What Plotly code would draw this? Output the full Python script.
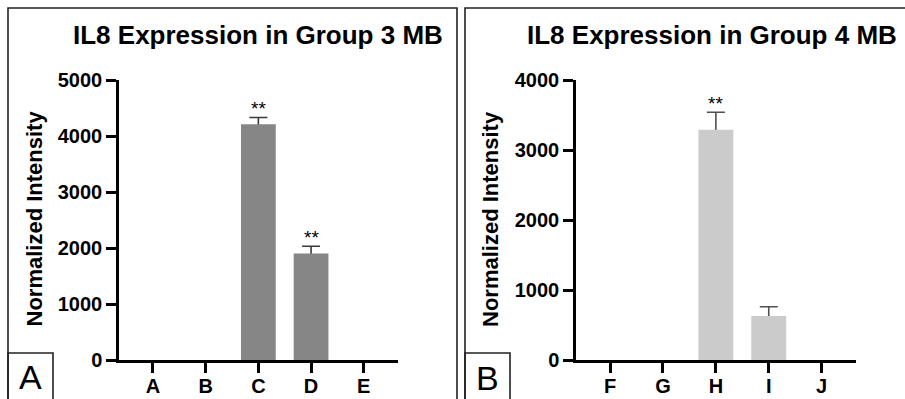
import plotly.graph_objects as go

# ---- data ----
categories_a = ["A", "B", "C", "D", "E"]
values_a = [0, 0, 4210, 1900, 0]
errors_a = [0, 0, 120, 130, 0]
sig_a = ["", "", "**", "**", ""]

categories_b = ["F", "G", "H", "I", "J"]
values_b = [0, 0, 3290, 630, 0]
errors_b = [0, 0, 250, 130, 0]
sig_b = ["", "", "**", "", ""]

title_a = "IL8 Expression in Group 3 MB"
title_b = "IL8 Expression in Group 4 MB"
ytitle = "Normalized Intensity"
yticks_a = [0, 1000, 2000, 3000, 4000, 5000]
yticks_b = [0, 1000, 2000, 3000, 4000]

W, H = 905, 399
FONT = "Liberation Sans"


def px(x):
    return x / W


def py(y):
    return 1 - y / H


fig = go.Figure()


def add_panel(cats, vals, errs, bar_color, err_color, xa, ya):
    # carrier of the error bars (drawn first, so the opaque bar hides the lower half)
    sel = [i for i, e in enumerate(errs) if e]
    fig.add_trace(go.Bar(
        x=[cats[i] for i in sel], y=[vals[i] for i in sel], width=0.66,
        marker=dict(color="rgba(0,0,0,0)", line=dict(width=0)),
        error_y=dict(type="data", symmetric=True,
                     array=[errs[i] for i in sel],
                     color=err_color, thickness=1.6, width=9),
        xaxis=xa, yaxis=ya, showlegend=False, hoverinfo="skip",
    ))
    fig.add_trace(go.Bar(
        x=cats, y=vals, width=0.66,
        marker=dict(color=bar_color, line=dict(width=0)),
        xaxis=xa, yaxis=ya, showlegend=False,
    ))


add_panel(categories_a, values_a, errors_a, "#868686", "#3a3a3a", "x", "y")
add_panel(categories_b, values_b, errors_b, "#cbcbcb", "#505050", "x2", "y2")

tickfont = dict(family=FONT, size=20, color="black", weight="bold")
common_x = dict(type="category", range=[-0.645, 4.65], showline=True, linecolor="black",
                linewidth=2.5, ticks="outside", ticklen=10, tickwidth=2.5, tickcolor="black",
                tickfont=tickfont, showgrid=False, zeroline=False, fixedrange=True,
                automargin=False, ticklabelstandoff=-4)
common_y = dict(showline=True, linecolor="black", linewidth=2.5, ticks="outside", ticklen=10,
                tickwidth=2.5, tickcolor="black", tickfont=tickfont, showgrid=False,
                zeroline=False, fixedrange=True, automargin=False)

fig.update_layout(
    width=W, height=H,
    margin=dict(l=0, r=0, t=0, b=0, pad=0, autoexpand=False),
    paper_bgcolor="white", plot_bgcolor="white",
    barmode="overlay",
    xaxis=dict(domain=[px(119), px(398)], anchor="y", categoryorder="array",
               categoryarray=categories_a, **common_x),
    yaxis=dict(domain=[py(360), py(80)], anchor="x", range=[0, 5000],
               tickvals=yticks_a, **common_y),
    xaxis2=dict(domain=[px(576), px(856)], anchor="y2", categoryorder="array",
                categoryarray=categories_b, **common_x),
    yaxis2=dict(domain=[py(360), py(80)], anchor="x2", range=[0, 4000],
                tickvals=yticks_b, **common_y),
)

annotations = []
# titles
annotations.append(dict(text="<b>" + title_a + "</b>", x=px(257.5), y=py(35), xref="paper", yref="paper",
                        showarrow=False, font=dict(family=FONT, size=26, color="black"),
                        xanchor="center", yanchor="middle"))
annotations.append(dict(text="<b>" + title_b + "</b>", x=px(712), y=py(35), xref="paper", yref="paper",
                        showarrow=False, font=dict(family=FONT, size=26, color="black"),
                        xanchor="center", yanchor="middle"))
# y titles
for xc in (33.5, 490):
    annotations.append(dict(text="<b>" + ytitle + "</b>", x=px(xc), y=py(219), xref="paper", yref="paper",
                            showarrow=False, textangle=-90,
                            font=dict(family=FONT, size=22, color="black"),
                            xanchor="center", yanchor="middle"))
# significance marks
for cats, vals, errs, sigs, xr, yr in ((categories_a, values_a, errors_a, sig_a, "x", "y"),
                                       (categories_b, values_b, errors_b, sig_b, "x2", "y2")):
    for c, v, e, s in zip(cats, vals, errs, sigs):
        if s:
            annotations.append(dict(text=s, x=c, y=v + e, xref=xr, yref=yr, showarrow=False,
                                    font=dict(family=FONT, size=19, color="black"),
                                    xanchor="center", yanchor="middle", yshift=9))
# panel letters
annotations.append(dict(text="A", x=px(31), y=py(377), xref="paper", yref="paper", showarrow=False,
                        font=dict(family=FONT, size=34, color="black"),
                        xanchor="center", yanchor="middle"))
annotations.append(dict(text="B", x=px(487), y=py(377.5), xref="paper", yref="paper", showarrow=False,
                        font=dict(family=FONT, size=34, color="black"),
                        xanchor="center", yanchor="middle"))
fig.update_layout(annotations=annotations)

shapes = []
frame = dict(color="#222222", width=1.6)
shapes.append(dict(type="rect", xref="paper", yref="paper", x0=px(8), x1=px(457), y0=py(420), y1=py(8),
                   line=frame, fillcolor="rgba(0,0,0,0)", layer="below"))
shapes.append(dict(type="rect", xref="paper", yref="paper", x0=px(465), x1=px(930), y0=py(420), y1=py(8),
                   line=frame, fillcolor="rgba(0,0,0,0)", layer="below"))
shapes.append(dict(type="rect", xref="paper", yref="paper", x0=px(8), x1=px(53), y0=py(420), y1=py(353),
                   line=frame, fillcolor="rgba(0,0,0,0)"))
shapes.append(dict(type="rect", xref="paper", yref="paper", x0=px(465), x1=px(510), y0=py(420), y1=py(353),
                   line=frame, fillcolor="rgba(0,0,0,0)"))
fig.update_layout(shapes=shapes)

fig.write_html("out.html", config={"displayModeBar": False},
               post_script="document.body.style.margin='0';document.body.style.overflow='hidden';")
